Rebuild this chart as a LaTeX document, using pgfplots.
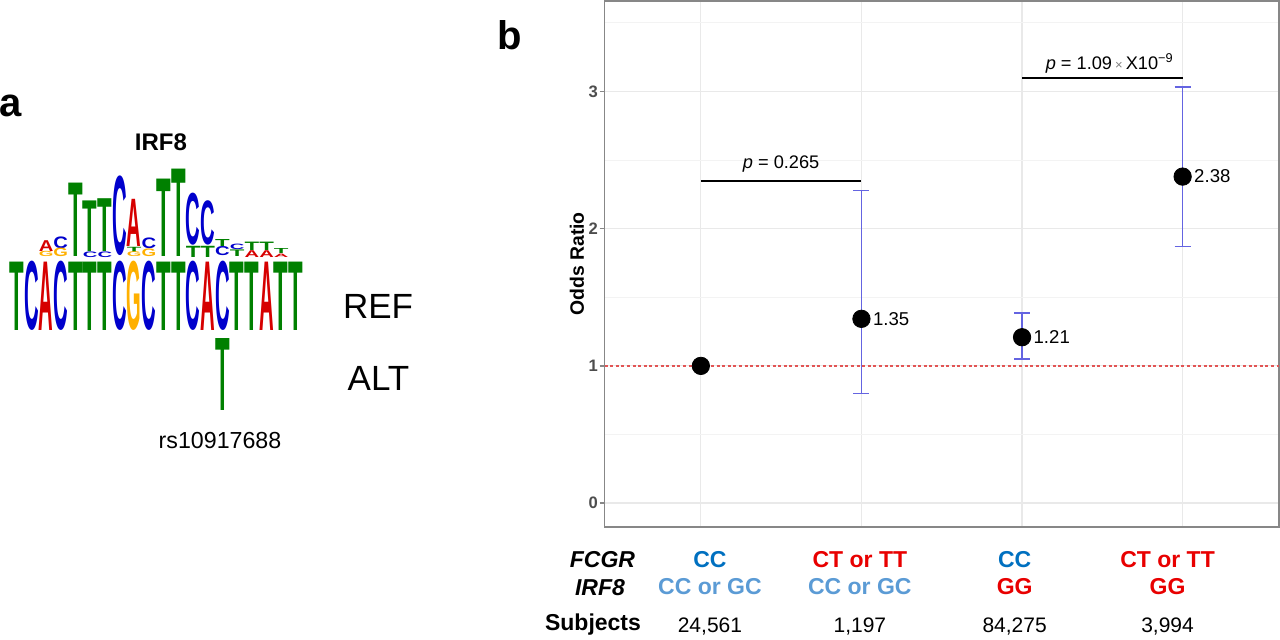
\documentclass[border=0pt]{standalone}
\usepackage{fontspec}
\setmainfont{Liberation Sans}
\usepackage{graphicx}
\usepackage{pgfplots}
\pgfplotsset{compat=1.18}
\definecolor{logoT}{RGB}{0,128,0}
\definecolor{logoC}{RGB}{0,0,204}
\definecolor{logoA}{RGB}{214,0,0}
\definecolor{logoG}{RGB}{255,176,0}
\definecolor{errc}{RGB}{100,100,225}
\definecolor{refred}{RGB}{226,85,85}
\definecolor{dblue}{RGB}{0,112,192}
\definecolor{lblue}{RGB}{91,155,213}
\definecolor{myred}{RGB}{232,0,0}
\definecolor{framec}{RGB}{135,135,135}
\definecolor{gridc}{RGB}{233,233,233}
\definecolor{gridm}{RGB}{243,243,243}
\definecolor{tickc}{RGB}{77,77,77}
\pgfplotsset{logo/.style 2 args={only marks, mark=none,
  visualization depends on={value \thisrow{h}\as\hh},
  nodes near coords={\resizebox{7.3pt}{\hh pt}{\bfseries #1}},
  nodes near coords style={anchor=south, inner sep=0pt, outer sep=0pt, text=#2}},
  errbar/.style={draw=errc, line width=0.85pt, mark=none}}
\begin{document}
\begin{tikzpicture}
\useasboundingbox (0pt,0pt) rectangle (640pt,319.5pt);
% ---------------- panel a: sequence logo
\begin{axis}[at={(4.675pt,109.5pt)}, anchor=south west, scale only axis,
  width=147pt, height=145pt, xmin=0.5, xmax=20.5, ymin=0, ymax=145,
  hide axis, clip=false]
\addplot[logo={T}{logoT}] table {
x y h
1 45 34.2
5 45 34.2
6 45 34.2
7 45 34.2
11 45 34.2
12 45 34.2
16 45 34.2
17 45 34.2
19 45 34.2
20 45 34.2
15 5 36
5 82.0 36.7
6 84.4 25.3
7 84.4 26.4
9 83.9 2.6
11 81.6 38.7
12 81.6 43.7
13 81.5 5.6
14 81.5 5.6
15 86.8 3.5
16 82.0 3.3
17 85.0 4.2
18 85.0 4.2
19 83.3 2.5
};
\addplot[logo={C}{logoC}] table {
x y h
2 45 34.2
4 45 34.2
8 45 34.2
10 45 34.2
13 45 34.2
15 45 34.2
4 85.9 5.8
6 81.4 2.8
7 81.4 2.8
8 82.0 39.3
10 85.5 5.3
13 87.3 25.7
14 87.3 21.9
15 82.0 4.5
16 85.3 2.7
};
\addplot[logo={A}{logoA}] table {
x y h
3 45 34.2
14 45 34.2
18 45 34.2
3 84.3 5.4
9 86.7 23.6
17 81.3 3.4
18 81.3 3.4
19 81.3 1.7
};
\addplot[logo={G}{logoG}] table {
x y h
9 45 34.2
3 81.7 2.6
4 81.5 4.2
9 81.5 2.4
10 81.5 3.8
};
\end{axis}
\node[font=\fontsize{20}{24}\selectfont\bfseries, anchor=base west, inner sep=0pt] at (-0.5pt,261.5pt) {a};
\node[font=\fontsize{20}{24}\selectfont\bfseries, anchor=base west, inner sep=0pt] at (248.5pt,294.5pt) {b};
\node[font=\fontsize{12}{14}\selectfont\bfseries, anchor=base, inner sep=0pt] at (80.5pt,244.5pt) {IRF8};
\node[font=\fontsize{17.5}{20}\selectfont, anchor=base, inner sep=0pt] at (189pt,160.5pt) {REF};
\node[font=\fontsize{17.5}{20}\selectfont, anchor=base, inner sep=0pt] at (189.25pt,124.5pt) {ALT};
\node[font=\fontsize{11.6}{14}\selectfont, anchor=base, inner sep=0pt] at (110pt,95.35pt) {rs10917688};
% ---------------- panel b: odds ratios
\begin{axis}[at={(302.25pt,56pt)}, anchor=south west, scale only axis,
  width=337.25pt, height=263pt,
  xmin=0.4, xmax=4.6, ymin=-0.1745, ymax=3.66,
  axis line style={draw=framec, line width=0.8pt},
  xtick={1,2,3,4}, xticklabels={}, xtick style={draw=none},
  ytick={0,1,2,3}, yticklabels={0,1,2,3},
  minor ytick={0.5,1.5,2.5,3.5},
  tick align=outside, tick pos=left, major tick length=2.5pt, minor tick length=0pt,
  ytick style={draw=framec, line width=0.7pt},
  xmajorgrids, ymajorgrids, yminorgrids,
  major grid style={draw=gridc, line width=0.6pt},
  minor grid style={draw=gridm, line width=0.45pt},
  yticklabel style={font=\fontsize{8.3}{10}\selectfont\bfseries, text=tickc, anchor=east, inner sep=0pt, xshift=-0.6pt},
  every axis y label/.style={at={(axis description cs:-0.0408,0.5)}, rotate=90, anchor=center,
     font=\fontsize{9.7}{11}\selectfont\bfseries},
  ylabel={Odds Ratio},
  extra x ticks={1.0565,1.99,2.954,3.906},
  extra x tick style={grid=none, major tick length=0pt},
  extra x tick labels={
   {\textcolor{dblue}{CC}\\\textcolor{lblue}{CC or GC}\\[5pt]{\mdseries\fontsize{10.5}{12}\selectfont 24,561}},
   {\textcolor{myred}{CT or TT}\\\textcolor{lblue}{CC or GC}\\[5pt]{\mdseries\fontsize{10.5}{12}\selectfont 1,197}},
   {\textcolor{dblue}{CC}\\\textcolor{myred}{GG}\\[5pt]{\mdseries\fontsize{10.5}{12}\selectfont 84,275}},
   {\textcolor{myred}{CT or TT}\\\textcolor{myred}{GG}\\[5pt]{\mdseries\fontsize{10.5}{12}\selectfont 3,994}}},
  xticklabel style={font=\fontsize{11.5}{13.85}\selectfont\bfseries, align=center, anchor=north, inner sep=0pt, yshift=-11.85pt},
  clip=false]
\addplot[refred, line width=0.7pt, dash pattern=on 1.5pt off 1.3pt, mark=none] coordinates {(0.4,1) (4.6,1)};
% confidence intervals: whiskers and caps
\addplot[errbar] coordinates {(2,0.798) (2,2.278)};
\addplot[errbar] coordinates {(1.95,0.798) (2.05,0.798)};
\addplot[errbar] coordinates {(1.95,2.278) (2.05,2.278)};
\addplot[errbar] coordinates {(3,1.049) (3,1.388)};
\addplot[errbar] coordinates {(2.95,1.049) (3.05,1.049)};
\addplot[errbar] coordinates {(2.95,1.388) (3.05,1.388)};
\addplot[errbar] coordinates {(4,1.870) (4,3.034)};
\addplot[errbar] coordinates {(3.95,1.870) (4.05,1.870)};
\addplot[errbar] coordinates {(3.95,3.034) (4.05,3.034)};
% p-value brackets
\addplot[black, line width=1.1pt, mark=none] coordinates {(1,2.348) (2,2.348)};
\addplot[black, line width=1.1pt, mark=none] coordinates {(3,3.097) (4,3.097)};
\addplot[only marks, mark=*, mark size=4.35pt, mark options={fill=black, draw=black}] coordinates {(1,1) (2,1.343) (3,1.209) (4,2.380)};
\addplot[only marks, mark=none, point meta=explicit symbolic, nodes near coords,
  nodes near coords style={anchor=west, inner sep=0pt, xshift=5.6pt, font=\fontsize{9.3}{11}\selectfont, text=black}]
 table[x=x, y=y, meta=lab] {
x y lab
2 1.343 1.35
3 1.209 1.21
4 2.380 2.38
};
\node[anchor=base, font=\fontsize{9.1}{11}\selectfont, inner sep=0pt] at (axis cs:1.5,2.441) {\textit{p} = 0.265};
\node[anchor=base, font=\fontsize{9.1}{11}\selectfont, inner sep=0pt] at (axis cs:3.546,3.157) {\textit{p} = 1.09\,{\fontsize{6.5}{7}\selectfont\color{gray}×}\,X10\textsuperscript{−9}};
\end{axis}
\node[font=\fontsize{11.5}{14}\selectfont\bfseries\itshape, anchor=base, inner sep=0pt] at (301.25pt,35.85pt) {FCGR};
\node[font=\fontsize{11.5}{14}\selectfont\bfseries\itshape, anchor=base, inner sep=0pt] at (300pt,22pt) {IRF8};
\node[font=\fontsize{11.5}{14}\selectfont\bfseries, anchor=base, inner sep=0pt] at (296.5pt,4.15pt) {Subjects};
\end{tikzpicture}
\end{document}
